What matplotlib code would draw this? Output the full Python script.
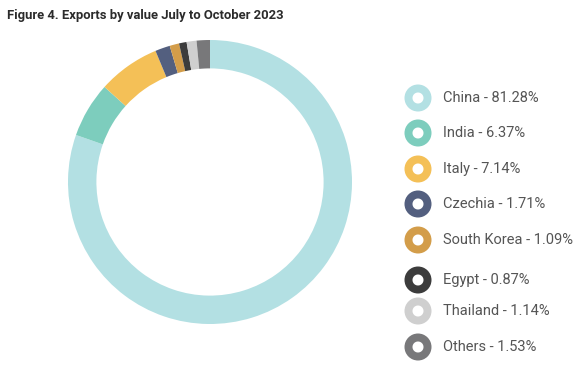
import matplotlib
matplotlib.use("Agg")
import matplotlib.pyplot as plt
from matplotlib.patches import Wedge

countries = ["China", "India", "Italy", "Czechia", "South Korea", "Egypt", "Thailand", "Others"]
shares = [81.28, 6.37, 7.14, 1.71, 1.09, 0.87, 1.14, 1.53]
colors = ["#b3e0e3", "#7dcdbd", "#f4c057", "#535f7f", "#d39d4a", "#3c3c3c", "#cfcfcf", "#78787a"]
title = "Figure 4. Exports by value July to October 2023"

# legend layout (pixel rows)
legend_rows = [98, 133, 169, 204, 240, 280, 311, 347]

W, H = 578, 368
fig = plt.figure(figsize=(W / 100, H / 100), dpi=100)
fig.patch.set_facecolor("white")

cx, cy, R = 210, 182, 142
ax = fig.add_axes([(cx - R) / W, (H - cy - R) / H, 2 * R / W, 2 * R / H])
ax.pie(shares, colors=colors, startangle=90, counterclock=False, radius=1,
       wedgeprops=dict(width=0.2, edgecolor="none", linewidth=0))
ax.set_xlim(-1, 1)
ax.set_ylim(-1, 1)
ax.set_aspect("equal")
ax.axis("off")

lax = fig.add_axes([0, 0, 1, 1])
lax.set_xlim(0, W)
lax.set_ylim(H, 0)
lax.axis("off")
lax.patch.set_alpha(0)

for name, val, col, y in zip(countries, shares, colors, legend_rows):
    lax.add_patch(Wedge((418, y), 13.5, 0, 360, width=8.0, facecolor=col, edgecolor="none"))
    lax.text(443, y, f"{name} - {val:.2f}%", fontsize=10.5, color="#555555",
             va="center", ha="left", family="Roboto")

fig.text(7 / W, 1 - 15 / H, title, fontsize=9.35, fontweight="bold", color="#2b2b2b",
         va="center", ha="left", family="Roboto")

fig.savefig("out.png", dpi=100)
